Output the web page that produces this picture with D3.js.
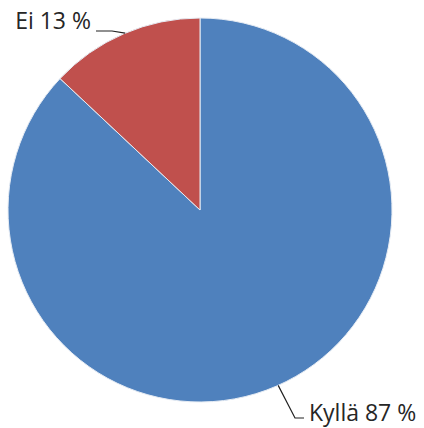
<!DOCTYPE html>
<html>
  <head>
    <script src="https://d3js.org/d3.v7.min.js"></script>
    <style>
      body, html {
        margin: 0;
        background: white;
      }
      text {
        font-family: 'Open Sans', sans-serif;
        font-size: 23px;
        fill: #262626;
      }
      .leader {
        fill: none;
        stroke: #222;
        stroke-width: 1.2px;
      }
    </style>
  </head>
  <body>
    <div id="chart"></div>
    <script>
      var categories = ["Kyllä", "Ei"];
      var values = [87, 13];
      var colors = ["#4f81bd", "#c0504d"];

      var width = 424, height = 428;
      var cx = 200, cy = 210, radius = 192;

      var svg = d3.select("#chart")
        .append("svg")
        .attr("width", width)
        .attr("height", height);

      var pie = d3.pie().sort(null).value(d => d);
      var arc = d3.arc().innerRadius(0).outerRadius(radius);
      var arcs = pie(values);

      var g = svg.append("g").attr("transform", "translate(" + cx + "," + cy + ")");

      g.selectAll("path")
        .data(arcs)
        .enter()
        .append("path")
          .attr("d", arc)
          .attr("fill", (d, i) => colors[i])
          .attr("stroke", "#e6ecf4")
          .attr("stroke-width", 1);

      // leader lines start on the rim (fraction of the slice), elbow, then text
      var labelPos = [
        { rim: 0.498, elbow: [95, 208], end: [104, 208], anchor: "start", tx: 109, ty: 211 },
        { rim: 0.51, elbow: [-88, -179], end: [-104, -179], anchor: "end", tx: -109, ty: -181 }
      ];

      arcs.forEach((a, i) => {
        var p = labelPos[i];
        var ang = a.startAngle + (a.endAngle - a.startAngle) * p.rim;
        var sx = Math.sin(ang) * radius, sy = -Math.cos(ang) * radius;
        g.append("path")
          .attr("class", "leader")
          .attr("d", d3.line()([[sx, sy], p.elbow, p.end]));
        g.append("text")
          .attr("x", p.tx)
          .attr("y", p.ty)
          .attr("text-anchor", p.anchor)
          .text(categories[i] + " " + values[i] + " %");
      });
    </script>
  </body>
</html>
